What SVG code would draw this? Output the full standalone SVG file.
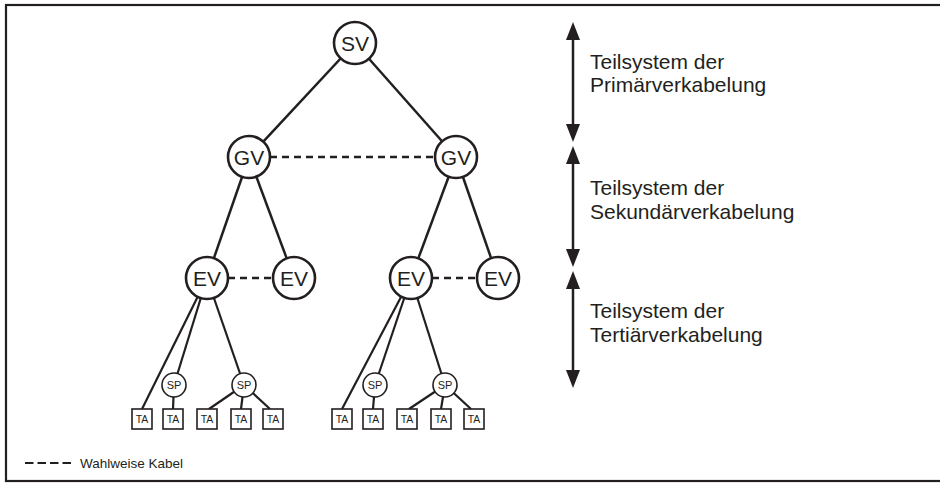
<svg xmlns="http://www.w3.org/2000/svg" width="940" height="483" viewBox="0 0 940 483">
<style>
.ln{stroke:#231f20;stroke-width:2.5;fill:none}
.dash{stroke:#231f20;stroke-width:2.5;fill:none;stroke-dasharray:7 5}
.thin{stroke:#231f20;stroke-width:2.2;fill:none}
.big{fill:#fff;stroke:#231f20;stroke-width:2.6}
.sp{fill:#fff;stroke:#231f20;stroke-width:1.6}
.ta{fill:#fff;stroke:#231f20;stroke-width:1.6}
text{font-family:"Liberation Sans",Arial,sans-serif;fill:#231f20}
.bl{font-size:21px;text-anchor:middle}
.sl{font-size:11px;text-anchor:middle}
.tl{font-size:10.5px;text-anchor:middle}
.rt{font-size:21px}
.ar{fill:#231f20}
</style>
<rect x="6" y="5" width="940" height="476" fill="#fff" stroke="#231f20" stroke-width="2.2"/>
<g id="connectors">
<line class="ln" x1="355" y1="43" x2="249" y2="157"/>
<line class="ln" x1="355" y1="43" x2="456" y2="157"/>
<line class="dash" x1="270" y1="157" x2="435" y2="157"/>
<line class="ln" x1="249" y1="157" x2="207" y2="278"/>
<line class="ln" x1="249" y1="157" x2="294" y2="278"/>
<line class="ln" x1="456" y1="157" x2="411" y2="278"/>
<line class="ln" x1="456" y1="157" x2="498" y2="278"/>
<line class="dash" x1="228" y1="278" x2="273" y2="278"/>
<line class="dash" x1="432" y1="278" x2="477" y2="278"/>
<line class="thin" x1="207" y1="278" x2="142" y2="409"/>
<line class="thin" x1="207" y1="278" x2="174" y2="385"/>
<line class="thin" x1="207" y1="278" x2="244" y2="385"/>
<line class="thin" x1="174" y1="385" x2="173" y2="409"/>
<line class="thin" x1="244" y1="385" x2="209" y2="409"/>
<line class="thin" x1="244" y1="385" x2="241" y2="409"/>
<line class="thin" x1="244" y1="385" x2="270" y2="409"/>
<line class="thin" x1="411" y1="278" x2="342" y2="409"/>
<line class="thin" x1="411" y1="278" x2="375" y2="385"/>
<line class="thin" x1="411" y1="278" x2="445" y2="385"/>
<line class="thin" x1="375" y1="385" x2="373" y2="409"/>
<line class="thin" x1="445" y1="385" x2="409" y2="409"/>
<line class="thin" x1="445" y1="385" x2="441" y2="409"/>
<line class="thin" x1="445" y1="385" x2="471" y2="409"/>
</g>
<g id="SV"><circle class="big" cx="355" cy="43" r="21"/><text class="bl" x="355" y="50.5">SV</text></g>
<g id="GV1"><circle class="big" cx="249" cy="157" r="21"/><text class="bl" x="249" y="164.5">GV</text></g>
<g id="GV2"><circle class="big" cx="456" cy="157" r="21"/><text class="bl" x="456" y="164.5">GV</text></g>
<g id="EV1"><circle class="big" cx="207" cy="278" r="21"/><text class="bl" x="207" y="285.5">EV</text></g>
<g id="EV2"><circle class="big" cx="294" cy="278" r="21"/><text class="bl" x="294" y="285.5">EV</text></g>
<g id="EV3"><circle class="big" cx="411" cy="278" r="21"/><text class="bl" x="411" y="285.5">EV</text></g>
<g id="EV4"><circle class="big" cx="498" cy="278" r="21"/><text class="bl" x="498" y="285.5">EV</text></g>
<g id="SP1"><circle class="sp" cx="174" cy="385" r="12"/><text class="sl" x="174" y="389">SP</text></g>
<g id="SP2"><circle class="sp" cx="244" cy="385" r="12"/><text class="sl" x="244" y="389">SP</text></g>
<g id="SP3"><circle class="sp" cx="375" cy="385" r="12"/><text class="sl" x="375" y="389">SP</text></g>
<g id="SP4"><circle class="sp" cx="445" cy="385" r="12"/><text class="sl" x="445" y="389">SP</text></g>
<g id="TA1"><rect class="ta" x="132" y="409" width="20" height="20"/><text class="tl" x="142" y="423">TA</text></g>
<g id="TA2"><rect class="ta" x="163" y="409" width="20" height="20"/><text class="tl" x="173" y="423">TA</text></g>
<g id="TA3"><rect class="ta" x="197" y="409" width="20" height="20"/><text class="tl" x="207" y="423">TA</text></g>
<g id="TA4"><rect class="ta" x="231" y="409" width="20" height="20"/><text class="tl" x="241" y="423">TA</text></g>
<g id="TA5"><rect class="ta" x="263" y="409" width="20" height="20"/><text class="tl" x="273" y="423">TA</text></g>
<g id="TA6"><rect class="ta" x="332" y="409" width="20" height="20"/><text class="tl" x="342" y="423">TA</text></g>
<g id="TA7"><rect class="ta" x="363" y="409" width="20" height="20"/><text class="tl" x="373" y="423">TA</text></g>
<g id="TA8"><rect class="ta" x="397" y="409" width="20" height="20"/><text class="tl" x="407" y="423">TA</text></g>
<g id="TA9"><rect class="ta" x="431" y="409" width="20" height="20"/><text class="tl" x="441" y="423">TA</text></g>
<g id="TA10"><rect class="ta" x="464" y="409" width="20" height="20"/><text class="tl" x="474" y="423">TA</text></g>
<g id="arrows">
<line class="ln" x1="573" y1="36" x2="573" y2="128"/>
<polygon class="ar" points="573,22 566,40 580,40"/>
<polygon class="ar" points="573,142 566,124 580,124"/>
<line class="ln" x1="573" y1="160" x2="573" y2="253"/>
<polygon class="ar" points="573,146 566,164 580,164"/>
<polygon class="ar" points="573,267 566,249 580,249"/>
<line class="ln" x1="573" y1="285" x2="573" y2="374"/>
<polygon class="ar" points="573,271 566,289 580,289"/>
<polygon class="ar" points="573,388 566,370 580,370"/>
</g>
<g id="labels">
<text class="rt" x="590" y="69">Teilsystem der</text>
<text class="rt" x="590" y="92">Primärverkabelung</text>
<text class="rt" x="590" y="195">Teilsystem der</text>
<text class="rt" x="590" y="219">Sekundärverkabelung</text>
<text class="rt" x="590" y="318">Teilsystem der</text>
<text class="rt" x="590" y="342">Tertiärverkabelung</text>
</g>
<g id="legend">
<line x1="25" y1="463" x2="71" y2="463" stroke="#231f20" stroke-width="2.2" stroke-dasharray="8.5 4"/>
<text x="80" y="467.5" font-size="13.5px">Wahlweise Kabel</text>
</g>
</svg>
